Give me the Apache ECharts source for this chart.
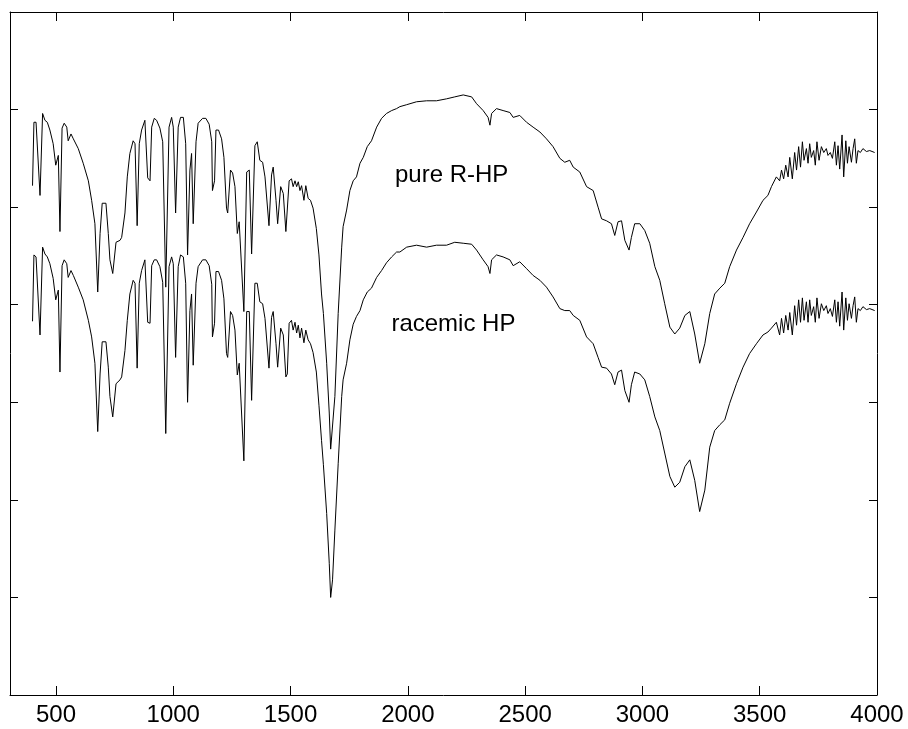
<!DOCTYPE html>
<html>
<head>
<meta charset="utf-8">
<script src="https://cdn.jsdelivr.net/npm/echarts@6/dist/echarts.min.js"></script>
<style>html,body{margin:0;padding:0;background:#fff}#c{width:908px;height:729px}</style>
</head>
<body>
<div id="c"></div>
<script>
// Wavenumber (cm-1) sample points
const wavenumber = [400,406,415,432,443,453,463,474,488,499,
510,517,526,535,546,552,564,574,595,616,
638,652,666,678,688,697,713,723,730,742,
747,756,773,780,794,804,815,829,837,846,
855,865,879,891,901,908,919,929,943,955,
968,982,993,1000,1010,1021,1031,1043,1053,1061,
1071,1078,1085,1097,1106,1125,1139,1153,1164,1167,
1176,1182,1193,1206,1216,1227,1232,1244,1253,1263,
1273,1281,1288,1301,1313,1324,1334,1348,1358,1369,
1381,1391,1408,1415,1419,1426,1438,1445,1458,1469,
1480,1486,1494,1504,1511,1519,1526,1533,1540,1547,
1557,1565,1575,1585,1596,1610,1621,1632,1640,1654,
1665,1671,1679,1689,1703,1718,1724,1739,1753,1767,
1781,1796,1810,1827,1845,1867,1888,1909,1931,1952,
1966,1995,2037,2080,2122,2165,2200,2236,2272,2293,
2321,2342,2350,2357,2378,2406,2435,2449,2477,2506,
2534,2563,2591,2619,2648,2669,2690,2705,2733,2762,
2790,2811,2826,2847,2868,2882,2896,2911,2925,2943,
2953,2967,2989,3010,3031,3053,3074,3095,3117,3138,
3159,3181,3202,3223,3244,3266,3287,3308,3330,3351,
3372,3401,3429,3457,3486,3514,3535,3550,3571,3585,
3593,3602,3611,3621,3628,3639,3649,3657,3666,3674,
3682,3689,3699,3706,3713,3720,3730,3737,3744,3753,
3763,3773,3784,3791,3801,3810,3820,3827,3834,3841,
3851,3858,3867,3874,3881,3891,3898,3905,3912,3919,
3929,3940,3955,3969,3990];

// pure R-HP spectrum (arbitrary units, offset)
const pureRHP = [52.2,58.7,58.7,51.2,59.6,58.9,58.7,57.9,56.5,54.3,
55.3,47.5,58.1,58.6,58.2,56.8,57.5,57.0,56.0,54.5,
52.7,50.7,48.3,41.3,47.3,50.4,50.4,47.3,44.6,43.2,
43.2,46.4,46.6,46.9,49.4,53.1,55.5,56.8,56.5,48.1,
56.5,57.9,58.9,53.0,52.7,58.2,59.1,58.9,58.1,56.7,
41.8,58.2,59.2,58.2,49.4,58.2,59.2,59.2,56.5,45.1,
53.8,55.5,48.3,56.7,58.6,59.1,59.1,58.5,56.7,51.7,
52.7,57.9,57.9,57.0,55.1,49.9,49.4,53.8,53.5,52.1,
47.3,48.5,48.3,39.3,53.6,53.8,45.2,56.3,56.7,54.8,
54.6,53.1,48.1,48.0,53.3,54.1,50.7,48.3,52.1,51.4,
47.5,47.6,52.7,52.9,52.1,52.7,52.1,52.6,51.7,52.2,
50.7,52.2,50.9,50.7,49.9,47.8,45.1,41.1,39.1,34.0,
28.9,25.2,25.4,30.6,39.1,45.9,48.0,49.7,51.7,52.7,
53.1,54.5,55.1,56.2,56.8,58.2,59.1,59.6,59.9,60.1,
60.3,60.5,60.8,60.9,60.9,61.1,61.3,61.5,61.3,60.6,
59.9,59.2,58.4,59.6,60.1,59.9,59.7,59.2,59.4,58.7,
58.2,57.7,57.0,56.2,55.0,54.6,54.8,54.1,53.6,52.1,
51.7,50.0,48.8,48.6,48.3,47.1,48.5,48.6,46.6,45.6,
46.9,48.3,48.3,47.6,46.3,43.9,42.5,40.1,37.7,37.0,
37.6,38.9,39.3,37.0,34.0,36.0,39.1,41.1,41.7,42.2,
43.9,45.6,46.9,48.3,49.5,50.7,51.2,52.1,53.1,52.7,
53.8,52.9,54.3,53.1,55.1,52.9,55.6,53.8,56.2,54.1,
56.7,54.8,56.0,54.5,56.5,55.1,55.8,54.3,56.7,54.8,
56.2,55.6,56.0,55.3,55.6,55.0,56.7,54.3,56.3,53.9,
57.4,53.1,56.8,54.5,56.2,54.6,56.0,57.0,54.5,55.8,
55.6,56.0,55.7,55.8,55.6];

// racemic HP spectrum (arbitrary units, offset)
const racemicHP = [38.3,45.1,44.9,36.9,45.9,45.2,44.9,44.2,42.7,40.5,
41.5,33.1,44.0,44.6,44.2,42.8,43.5,43.0,41.8,40.5,
38.4,36.7,34.0,27.0,32.9,36.2,36.2,33.6,30.6,28.5,
28.5,31.9,32.3,32.6,35.3,38.4,41.1,42.5,42.2,33.5,
42.2,43.5,44.6,38.2,38.1,44.0,44.6,44.6,43.9,42.3,
26.8,43.9,44.9,44.2,34.6,43.9,45.1,44.9,42.2,30.0,
39.4,41.1,33.8,42.2,43.9,44.6,44.6,44.0,42.1,36.7,
38.1,43.4,43.4,42.5,40.6,35.0,34.6,39.3,38.9,37.4,
32.8,34.0,33.8,24.0,39.3,39.3,30.2,42.2,42.2,40.3,
40.1,38.6,33.5,33.3,38.7,39.3,36.0,33.6,37.6,36.9,
32.6,32.9,38.1,38.4,37.4,38.2,37.1,37.9,36.6,37.6,
36.1,37.4,36.4,36.0,35.1,33.1,29.7,26.1,23.6,18.6,
13.5,10.0,11.8,16.9,23.7,30.6,32.3,34.0,36.4,38.0,
38.8,39.4,40.5,41.3,41.7,42.8,43.5,44.3,44.9,45.4,
45.4,45.9,46.1,45.9,46.1,46.1,46.4,46.3,46.2,45.6,
44.6,43.9,43.2,44.6,45.1,44.9,44.6,44.0,44.4,43.7,
43.0,42.5,41.8,40.8,39.6,39.4,39.4,38.9,38.4,36.7,
36.0,34.6,33.6,33.5,32.9,31.8,33.1,33.3,31.2,30.0,
31.8,33.1,32.9,32.3,30.6,28.5,27.1,24.8,22.4,21.3,
21.8,23.4,24.1,22.0,18.8,21.0,25.4,27.1,27.7,28.2,
29.9,31.9,33.6,35.0,36.0,36.9,37.2,37.6,38.2,36.9,
38.6,37.1,38.9,37.4,39.2,36.9,39.9,37.9,40.5,38.2,
40.7,38.4,40.3,38.2,40.5,38.9,39.8,38.2,40.7,38.6,
40.1,39.4,39.9,39.1,39.6,38.8,40.5,38.2,40.3,37.8,
41.3,37.4,40.7,38.4,40.1,38.6,39.9,40.8,38.2,39.6,
39.4,39.8,39.5,39.6,39.4];

const xTickValues = [500,1000,1500,2000,2500,3000,3500,4000];
const seriesLabels = ['pure R-HP', 'racemic HP'];
const labelAnchors = [[1945, 53.3], [1930, 38.0]];

const FONT = '"Liberation Sans", Arial, Helvetica, sans-serif';
const chart = echarts.init(document.getElementById('c'), null, {renderer: 'canvas'});

function xAxisCfg(pos, showLabels) {
  return {
    type: 'value', position: pos, min: 304, max: 4000,
    axisLine: {show: true, onZero: false, lineStyle: {color: '#000', width: 1}},
    axisTick: {show: true, inside: true, length: 9, customValues: xTickValues, lineStyle: {color: '#000', width: 1}},
    axisLabel: {show: showLabels, customValues: xTickValues, color: '#000', fontSize: 24, fontFamily: FONT, margin: 8,
      formatter: (v) => String(v)},
    splitLine: {show: false}
  };
}
function yAxisCfg(pos) {
  return {
    type: 'value', position: pos, min: 0, max: 70, interval: 10,
    axisLine: {show: true, onZero: false, lineStyle: {color: '#000', width: 1}},
    axisTick: {show: true, inside: true, length: 8, lineStyle: {color: '#000', width: 1}},
    axisLabel: {show: false},
    splitLine: {show: false}
  };
}

const mkData = (vals) => wavenumber.map((w, i) => [w, vals[i]]);

chart.setOption({
  animation: false,
  backgroundColor: '#fff',
  grid: {left: 10, top: 12, right: 31, bottom: 34, containLabel: false},
  xAxis: [xAxisCfg('bottom', true), xAxisCfg('top', false)],
  yAxis: [yAxisCfg('left'), yAxisCfg('right')],
  series: [
    {name: seriesLabels[0], type: 'line', data: mkData(pureRHP), showSymbol: false, symbol: 'none',
     lineStyle: {color: '#000', width: 1}, xAxisIndex: 0, yAxisIndex: 0},
    {name: seriesLabels[1], type: 'line', data: mkData(racemicHP), showSymbol: false, symbol: 'none',
     lineStyle: {color: '#000', width: 1}, xAxisIndex: 0, yAxisIndex: 0}
  ]
});

const texts = seriesLabels.map((t, i) => {
  const p = chart.convertToPixel({xAxisIndex: 0, yAxisIndex: 0}, labelAnchors[i]);
  return {type: 'text', x: p[0], y: p[1],
    style: {text: t, fill: '#000', font: '24px ' + FONT, textVerticalAlign: 'middle', textAlign: 'left'}};
});
chart.setOption({graphic: texts});
</script>
</body>
</html>
